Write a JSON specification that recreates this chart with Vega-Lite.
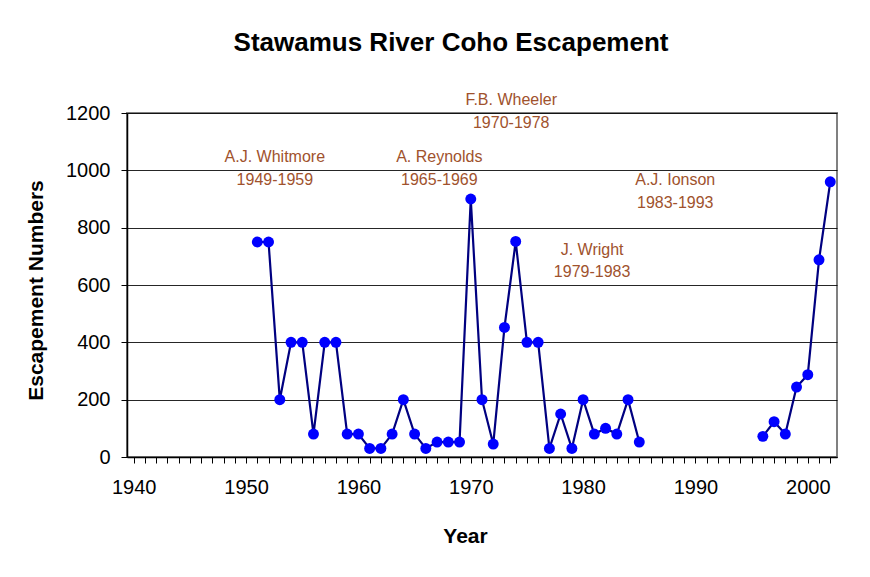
{
  "$schema": "https://vega.github.io/schema/vega-lite/v6.json",
  "autosize": {"type": "none"},
  "width": 710,
  "height": 344,
  "padding": {"left": 127, "top": 113, "right": 33, "bottom": 120},
  "background": "white",
  "title": {
    "text": "Stawamus River Coho Escapement",
    "font": "Liberation Sans",
    "fontSize": 26,
    "fontWeight": "bold",
    "color": "#000000",
    "frame": "group",
    "anchor": "middle",
    "dx": -31,
    "offset": 36
  },
  "config": {
    "view": {"stroke": "#808080", "strokeWidth": 2},
    "axis": {
      "labelFont": "Liberation Sans",
      "titleFont": "Liberation Sans",
      "labelColor": "#000000",
      "titleColor": "#000000",
      "domainColor": "#000000",
      "tickColor": "#000000",
      "domainWidth": 1.5
    }
  },
  "datasets": {
    "escapement": [
      {"year": 1951, "count": 750},
      {"year": 1952, "count": 750},
      {"year": 1953, "count": 200},
      {"year": 1954, "count": 400},
      {"year": 1955, "count": 400},
      {"year": 1956, "count": 80},
      {"year": 1957, "count": 400},
      {"year": 1958, "count": 400},
      {"year": 1959, "count": 80},
      {"year": 1960, "count": 80},
      {"year": 1961, "count": 30},
      {"year": 1962, "count": 30},
      {"year": 1963, "count": 80},
      {"year": 1964, "count": 200},
      {"year": 1965, "count": 80},
      {"year": 1966, "count": 30},
      {"year": 1967, "count": 52},
      {"year": 1968, "count": 52},
      {"year": 1969, "count": 52},
      {"year": 1970, "count": 900},
      {"year": 1971, "count": 200},
      {"year": 1972, "count": 45},
      {"year": 1973, "count": 452},
      {"year": 1974, "count": 752},
      {"year": 1975, "count": 400},
      {"year": 1976, "count": 400},
      {"year": 1977, "count": 30},
      {"year": 1978, "count": 150},
      {"year": 1979, "count": 30},
      {"year": 1980, "count": 200},
      {"year": 1981, "count": 80},
      {"year": 1982, "count": 100},
      {"year": 1983, "count": 80},
      {"year": 1984, "count": 200},
      {"year": 1985, "count": 52},
      {"year": 1990, "count": null},
      {"year": 1996, "count": 72},
      {"year": 1997, "count": 123},
      {"year": 1998, "count": 80},
      {"year": 1999, "count": 244},
      {"year": 2000, "count": 287},
      {"year": 2001, "count": 688},
      {"year": 2002, "count": 960}
    ],
    "notes": [
      {"year": 1952.56, "count": 1047, "label": "A.J. Whitmore"},
      {"year": 1952.56, "count": 968, "label": "1949-1959"},
      {"year": 1967.2, "count": 1047, "label": "A. Reynolds"},
      {"year": 1967.2, "count": 968, "label": "1965-1969"},
      {"year": 1973.6, "count": 1245, "label": "F.B. Wheeler"},
      {"year": 1973.6, "count": 1166, "label": "1970-1978"},
      {"year": 1980.8, "count": 722, "label": "J. Wright"},
      {"year": 1980.8, "count": 646, "label": "1979-1983"},
      {"year": 1988.2, "count": 966, "label": "A.J. Ionson"},
      {"year": 1988.2, "count": 887, "label": "1983-1993"}
    ]
  },
  "encoding": {
    "x": {
      "field": "year",
      "type": "quantitative",
      "scale": {"domain": [1939.4, 2002.6], "nice": false, "zero": false},
      "axis": {
        "title": "Year",
        "titleFontSize": 21,
        "titleFontWeight": "bold",
        "titleX": 338,
        "titleY": 79,
        "titleAlign": "center",
        "titleBaseline": "middle",
        "values": [1940,1941,1942,1943,1944,1945,1946,1947,1948,1949,1950,1951,1952,1953,1954,1955,1956,1957,1958,1959,1960,1961,1962,1963,1964,1965,1966,1967,1968,1969,1970,1971,1972,1973,1974,1975,1976,1977,1978,1979,1980,1981,1982,1983,1984,1985,1986,1987,1988,1989,1990,1991,1992,1993,1994,1995,1996,1997,1998,1999,2000,2001,2002],
        "labelExpr": "datum.value % 10 === 0 ? format(datum.value, 'd') : ''",
        "labelFontSize": 20,
        "labelPadding": 14,
        "labelOverlap": false,
        "labelFlush": false,
        "tickSize": 6,
        "grid": false
      }
    },
    "y": {
      "field": "count",
      "type": "quantitative",
      "scale": {"domain": [0, 1200], "nice": false},
      "axis": {
        "title": "Escapement Numbers",
        "titleFontSize": 21,
        "titleFontWeight": "bold",
        "titleX": -91,
        "titleY": 177,
        "titleAlign": "center",
        "titleBaseline": "middle",
        "titleAngle": -90,
        "values": [0, 200, 400, 600, 800, 1000, 1200],
        "format": "d",
        "labelFontSize": 20,
        "labelPadding": 11,
        "labelOverlap": false,
        "tickSize": 6,
        "grid": true,
        "gridColor": "#000000",
        "gridWidth": 1,
        "gridOpacity": 0.85
      }
    }
  },
  "layer": [
    {
      "data": {"name": "escapement"},
      "mark": {"type": "line", "color": "#000080", "strokeWidth": 2.2, "invalid": "break-paths-show-domains"}
    },
    {
      "data": {"name": "escapement"},
      "mark": {"type": "point", "filled": true, "shape": "circle", "size": 120, "color": "#0000FF", "opacity": 1}
    },
    {
      "data": {"name": "notes"},
      "mark": {"type": "text", "font": "Liberation Sans", "fontSize": 16, "color": "#A0522D", "align": "center", "baseline": "middle"},
      "encoding": {
        "text": {"field": "label"}
      }
    }
  ]
}
